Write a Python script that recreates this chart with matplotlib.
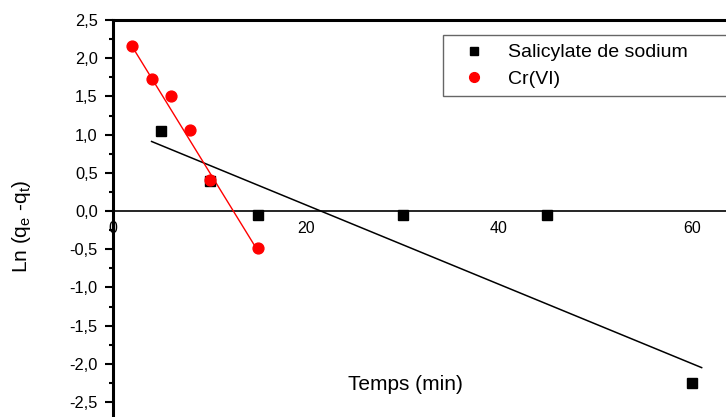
import matplotlib
matplotlib.use('Agg')
import matplotlib.pyplot as plt
from matplotlib.ticker import MultipleLocator, FuncFormatter

plt.rcParams['font.family'] = ['Liberation Sans', 'DejaVu Sans']
plt.rcParams['mathtext.fontset'] = 'custom'
plt.rcParams['mathtext.rm'] = 'Liberation Sans'
plt.rcParams['mathtext.it'] = 'Liberation Sans'

# data
temps_sal = [5, 10, 15, 30, 45, 60]
ln_sal = [1.05, 0.39, -0.05, -0.05, -0.05, -2.25]
temps_cr = [2, 4, 6, 8, 10, 15]
ln_cr = [2.16, 1.73, 1.50, 1.06, 0.41, -0.48]

# linear fit lines (end points)
fit_sal_x = [4, 61]
fit_sal_y = [0.91, -2.05]
fit_cr_x = [2, 15]
fit_cr_y = [2.15, -0.52]

x_ticks = [0, 20, 40, 60]

fig = plt.figure(figsize=(7.26, 4.17), dpi=100)
W, H = 726, 417
ax_l, ax_r, ax_t, ax_b = 113, 740, 20, 425
ax = fig.add_axes([ax_l / W, (H - ax_b) / H, (ax_r - ax_l) / W, (ax_b - ax_t) / H])

ax.plot(fit_sal_x, fit_sal_y, color='black', lw=1.1, zorder=2)
ax.plot(fit_cr_x, fit_cr_y, color='red', lw=1.0, zorder=3)
ax.plot(temps_sal, ln_sal, 's', color='black', ms=6.5, label='Salicylate de sodium', zorder=4)
ax.plot(temps_cr, ln_cr, 'o', color='red', ms=7.8, mec='red', label='Cr(VI)', zorder=5)

ax.set_xlim(0, (ax_r - ax_l) / 9.65)
ax.set_ylim(2.5 - (ax_b - ax_t) / 76.4, 2.5)

ax.spines['bottom'].set_position(('data', 0))
ax.spines['bottom'].set_linewidth(1.2)
ax.spines['left'].set_linewidth(2.2)
ax.spines['top'].set_linewidth(2.2)
ax.spines['right'].set_visible(False)

ax.set_xticks(x_ticks)
ax.tick_params(axis='x', length=0, pad=7, labelsize=11.5)
ax.yaxis.set_major_locator(MultipleLocator(0.5))
ax.yaxis.set_minor_locator(MultipleLocator(0.25))
ax.yaxis.set_major_formatter(FuncFormatter(lambda v, p: f'{v:.1f}'.replace('.', ',')))
ax.tick_params(axis='y', which='major', length=6, width=1.5, pad=5, labelsize=11.8)
ax.tick_params(axis='y', which='minor', length=3, width=1.5)

ax.set_xlabel('Temps (min)', fontsize=15, va='center')
ax.xaxis.set_label_coords((405 - ax_l) / (ax_r - ax_l), (ax_b - 384) / (ax_b - ax_t))
ax.set_ylabel(r'Ln (q$_{\rm e}$ -q$_{\rm t}$)', fontsize=15, va='center')
ax.yaxis.set_label_coords((22 - ax_l) / (ax_r - ax_l), (ax_b - 226) / (ax_b - ax_t))

leg = ax.legend(loc='upper left', bbox_to_anchor=(443 / W, 1 - 35 / H - 0.01, 0.45, 0.01),
                bbox_transform=fig.transFigure, mode='expand', borderaxespad=0,
                fontsize=14, frameon=True, fancybox=False, handlelength=2.3,
                handletextpad=0.6, borderpad=0.45, labelspacing=0.45, markerscale=0.9)
leg.get_frame().set_edgecolor('#404040')
leg.get_frame().set_linewidth(1.0)

fig.savefig('out.png', dpi=100)
